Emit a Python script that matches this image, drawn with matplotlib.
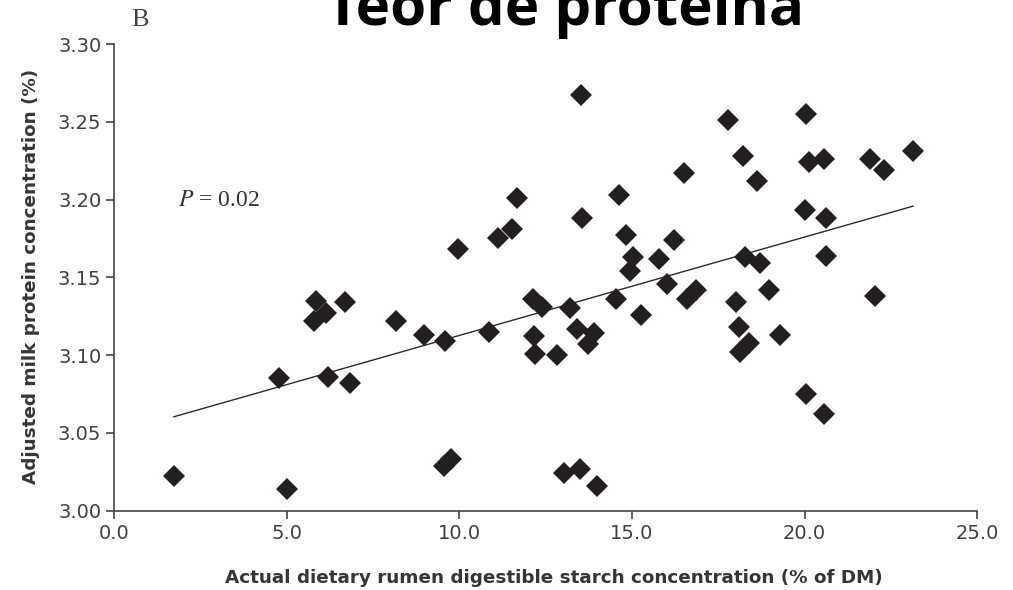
import matplotlib
matplotlib.use("Agg")
import matplotlib.pyplot as plt
from matplotlib.ticker import FormatStrFormatter

plt.rcParams["mathtext.fontset"] = "stix"

##################################################
# Data: rumen digestible starch (% of DM) vs adjusted milk protein (%)
starch = [
    1.72, 5.00, 4.76, 5.84, 6.14, 5.77, 6.67, 6.18, 6.82, 8.16,
    8.96, 9.59, 9.56, 9.75, 10.86, 12.13, 12.39, 13.21, 14.54, 15.26,
    12.15, 12.18, 12.82, 13.40, 13.90, 13.72, 13.02, 13.48, 13.98, 13.53,
    9.97, 11.11, 11.52, 11.68, 13.55, 14.63, 14.83, 15.03, 14.95, 15.77,
    16.22, 16.51, 16.01, 16.60, 16.85, 17.77, 20.05, 18.23, 18.62, 20.13,
    20.55, 21.90, 22.29, 23.15, 20.02, 20.62, 20.62, 18.28, 18.72, 18.98,
    18.01, 22.04, 18.09, 18.40, 18.13, 19.29, 20.04, 20.57,
]
protein = [
    3.022, 3.014, 3.085, 3.135, 3.127, 3.122, 3.134, 3.086, 3.082, 3.122,
    3.113, 3.109, 3.029, 3.033, 3.115, 3.136, 3.131, 3.130, 3.136, 3.126,
    3.112, 3.101, 3.100, 3.117, 3.114, 3.107, 3.024, 3.027, 3.016, 3.267,
    3.168, 3.175, 3.181, 3.201, 3.188, 3.203, 3.177, 3.163, 3.154, 3.162,
    3.174, 3.217, 3.146, 3.136, 3.142, 3.251, 3.255, 3.228, 3.212, 3.224,
    3.226, 3.226, 3.219, 3.231, 3.193, 3.188, 3.164, 3.163, 3.159, 3.142,
    3.134, 3.138, 3.118, 3.108, 3.102, 3.113, 3.075, 3.062,
]

# fitted line
slope = 0.00632
intercept = 3.0495
p_text = "0.02"

x_ticks = [0, 5, 10, 15, 20, 25]
y_ticks = [3.00, 3.05, 3.10, 3.15, 3.20, 3.25, 3.30]

##################################################
# Plot
fig = plt.figure(figsize=(10.13, 5.90), dpi=100)
ax = fig.add_axes([0.113, 0.1344, 0.8515, 0.791])

ax.plot(starch, protein, linestyle="none", marker="D", markersize=10.8,
        color="#231f20", markeredgewidth=0, zorder=3)

x0, x1 = min(starch), max(starch)
ax.plot([x0, x1], [intercept + slope * x0, intercept + slope * x1],
        color="#2b2b2b", linewidth=1.0, zorder=2)

ax.text(1.83, 3.1997, rf"$P$ = {p_text}", fontfamily="Liberation Serif",
        fontsize=17, color="#333333", va="center", ha="left")

ax.set_xlim(0, 25)
ax.set_ylim(3.0, 3.3)
ax.set_xticks(x_ticks)
ax.set_yticks(y_ticks)
ax.xaxis.set_major_formatter(FormatStrFormatter("%.1f"))
ax.yaxis.set_major_formatter(FormatStrFormatter("%.2f"))

for side in ["top", "right"]:
    ax.spines[side].set_visible(False)
for side in ["left", "bottom"]:
    ax.spines[side].set_color("#444444")
    ax.spines[side].set_linewidth(1.2)
ax.tick_params(direction="out", length=5.5, width=1.2, color="#444444",
               labelsize=14, labelcolor="#404040", pad=4)

fig.text(31 / 1013, 1 - 276 / 590, "Adjusted milk protein concentration (%)",
         rotation=90, ha="center", va="center", fontsize=13.2,
         fontweight="bold", color="#363636")
fig.text(554 / 1013, 1 - 578 / 590,
         "Actual dietary rumen digestible starch concentration (% of DM)",
         ha="center", va="center", fontsize=13.2, fontweight="bold",
         color="#363636")

fig.text(139.5 / 1013, 1 - 19.5 / 590, "B", fontfamily="Liberation Serif",
         fontsize=19, color="#444444", ha="center", va="center")
fig.text(565 / 1013, 1 - 25 / 590, "Teor de proteína", fontfamily="Open Sans",
         fontweight="bold", fontsize=42, color="black", ha="center",
         va="baseline")

fig.savefig("out.png", dpi=100, facecolor="white")
